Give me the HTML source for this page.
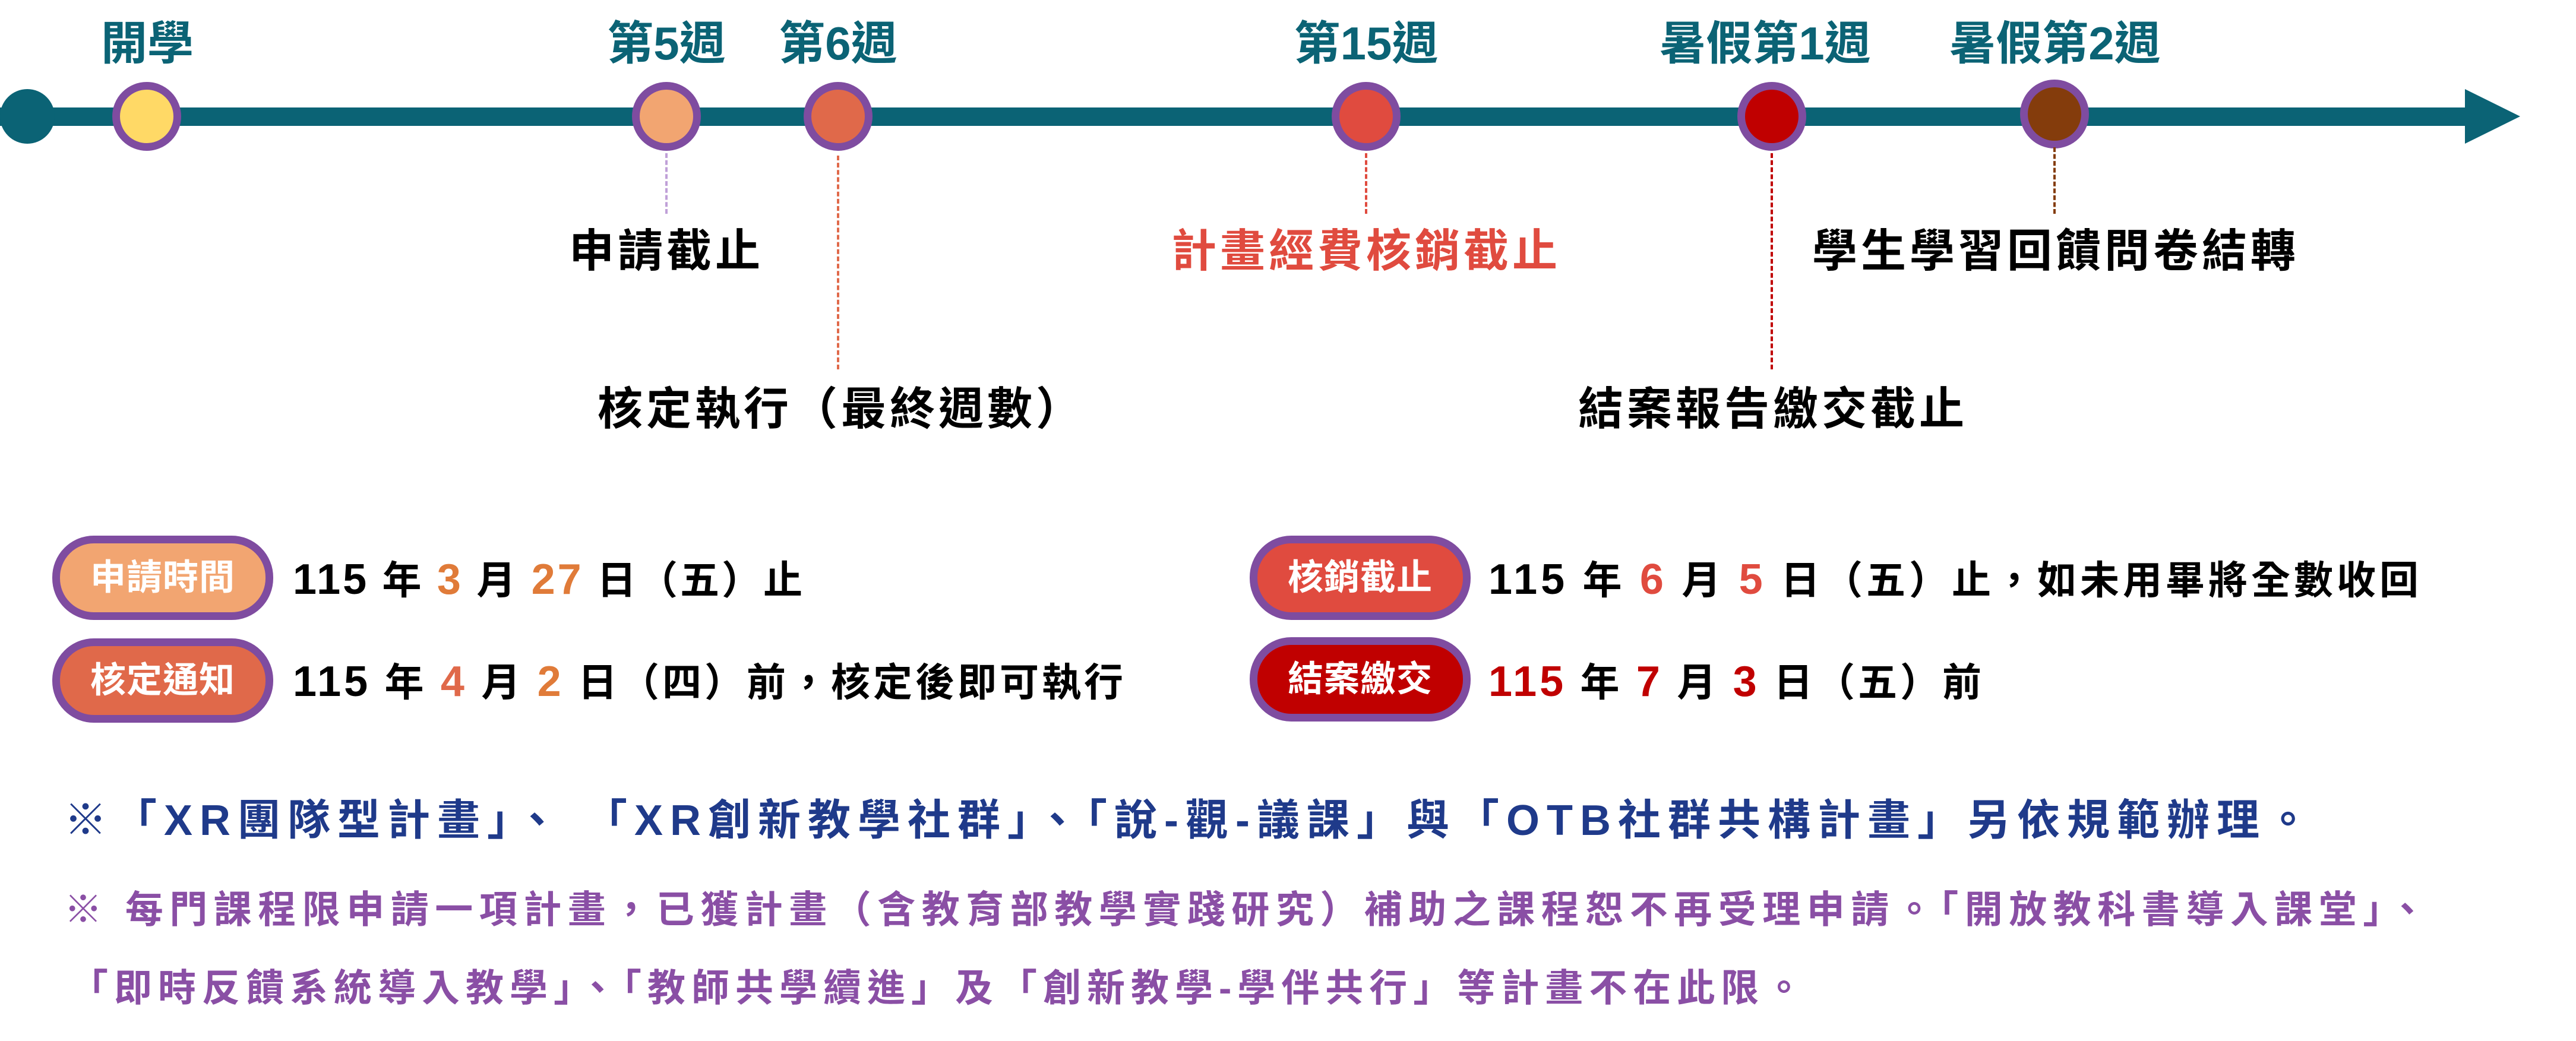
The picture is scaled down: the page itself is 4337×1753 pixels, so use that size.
<!DOCTYPE html>
<html><head><meta charset="utf-8"><style>
body{margin:0;width:4337px;height:1753px;background:#fff;position:relative;overflow:hidden;font-family:"Liberation Sans","Noto Sans CJK TC",sans-serif;}
.a{position:absolute;white-space:nowrap;line-height:1;}
.c{transform:translateX(-50%);}
.wk{color:#0b6375;font-weight:bold;font-size:78px;top:34px;}
.lb{font-size:76px;font-weight:bold;color:#000;letter-spacing:6px;}
.dot{position:absolute;width:90px;height:90px;border-radius:50%;border:13px solid #7f4ca0;box-sizing:content-box;}
.dash{position:absolute;width:0;border-left:4px dashed;}
.pill{position:absolute;width:346px;height:116px;border:13px solid #7f4ca0;border-radius:70px;color:#fff;font-weight:bold;font-size:60px;text-align:center;line-height:116px;letter-spacing:1px;}
.dt{font-size:66px;font-weight:bold;color:#000;letter-spacing:5px;}
.dt b{font-size:72px;}
.n1{color:#e07b39}.n2{color:#e04b3f}.n3{color:#c00000}
.blue{color:#1f3a8a;font-weight:bold;font-size:72px;top:1346px;left:108px;letter-spacing:12px;}
.pur{color:#8a4fa5;font-weight:bold;font-size:64px;}
</style></head><body>
<div class="a" style="left:0;top:181px;width:4160px;height:31px;background:#0b6375"></div>
<svg class="a" style="left:4140px;top:150px" width="110" height="94"><polygon points="10,0 103,46 10,92" fill="#0b6375"/></svg>
<div class="a" style="left:0;top:150px;width:92px;height:92px;border-radius:50%;background:#0b6375"></div>

<div class="dot" style="left:189px;top:138px;background:#ffd966"></div>
<div class="dot" style="left:1064px;top:138px;background:#f2a571"></div>
<div class="dot" style="left:1353px;top:138px;background:#e0694a"></div>
<div class="dot" style="left:2242px;top:138px;background:#e04b3f"></div>
<div class="dot" style="left:2925px;top:138px;background:#c00000"></div>
<div class="dot" style="left:3401px;top:134px;background:#843c0c"></div>

<div class="dash" style="left:1120px;top:258px;height:102px;border-color:#c0a0d8"></div>
<div class="dash" style="left:1409px;top:262px;height:360px;border-color:#e0694a"></div>
<div class="dash" style="left:2298px;top:258px;height:102px;border-color:#e04b3f"></div>
<div class="dash" style="left:2981px;top:258px;height:364px;border-color:#c00000"></div>
<div class="dash" style="left:3457px;top:248px;height:112px;border-color:#843c0c"></div>

<div class="a wk c" style="left:248px">開學</div>
<div class="a wk c" style="left:1122px">第5週</div>
<div class="a wk c" style="left:1411px">第6週</div>
<div class="a wk c" style="left:2300px">第15週</div>
<div class="a wk c" style="left:2972px">暑假第1週</div>
<div class="a wk c" style="left:3460px">暑假第2週</div>

<div class="a lb c" style="left:1122px;top:386px">申請截止</div>
<div class="a lb c" style="left:1416px;top:652px">核定執行（最終週數）</div>
<div class="a lb c" style="left:2300px;top:386px;color:#e04b3f">計畫經費核銷截止</div>
<div class="a lb c" style="left:3461px;top:386px">學生學習回饋問卷結轉</div>
<div class="a lb c" style="left:2985px;top:652px">結案報告繳交截止</div>

<div class="pill" style="left:88px;top:902px;background:#f2a571">申請時間</div>
<div class="pill" style="left:88px;top:1075px;background:#e0694a">核定通知</div>
<div class="pill" style="left:2104px;top:902px;background:#e04b3f">核銷截止</div>
<div class="pill" style="left:2104px;top:1073px;background:#c00000">結案繳交</div>

<div class="a dt" style="left:493px;top:940px;letter-spacing:4px"><b>115</b> 年 <b class="n1">3</b> 月 <b class="n1">27</b> 日（五）止</div>
<div class="a dt" style="left:493px;top:1112px"><b>115</b> 年 <b class="n1" style="color:#e0694a">4</b> 月 <b class="n1">2</b> 日（四）前，核定後即可執行</div>
<div class="a dt" style="left:2506px;top:940px;letter-spacing:6px"><b>115</b> 年 <b class="n2">6</b> 月 <b class="n2">5</b> 日（五）止，如未用畢將全數收回</div>
<div class="a dt" style="left:2506px;top:1112px"><b class="n3">115</b> 年 <b class="n3">7</b> 月 <b class="n3">3</b> 日（五）前</div>

<div class="a blue">※「XR團隊型計畫」、 「XR創新教學社群」、「說-觀-議課」與「OTB社群共構計畫」另依規範辦理。</div>
<div class="a pur" style="left:108px;top:1500px;letter-spacing:10.5px">※ 每門課程限申請一項計畫，已獲計畫（含教育部教學實踐研究）補助之課程恕不再受理申請。「開放教科書導入課堂」、</div>
<div class="a pur" style="left:118px;top:1632px;letter-spacing:10px">「即時反饋系統導入教學」、「教師共學續進」及「創新教學-學伴共行」等計畫不在此限。</div>
</body></html>
